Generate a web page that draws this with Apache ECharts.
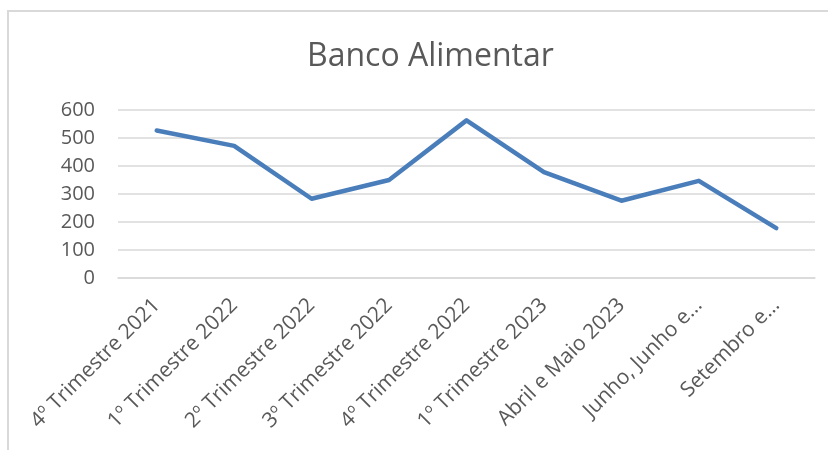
<!DOCTYPE html>
<html>
<head>
<meta charset="utf-8">
<script src="https://cdn.jsdelivr.net/npm/echarts@6/dist/echarts.min.js"></script>
<style>
  html, body { margin: 0; padding: 0; background: #fff; }
  #main { width: 828px; height: 450px; }
</style>
</head>
<body>
<div id="main"></div>
<script>
var categories = [
    '4º Trimestre 2021',
    '1º Trimestre 2022',
    '2º Trimestre 2022',
    '3º Trimestre 2022',
    '4º Trimestre 2022',
    '1º Trimestre 2023',
    'Abril e Maio 2023',
    'Junho, Junho e…',
    'Setembro e…'
];
var values = [527, 472, 283, 350, 563, 378, 276, 347, 178];
var yTicks = { min: 0, max: 600, interval: 100 };

var myChart = echarts.init(document.getElementById('main'));
var option = {
    animation: false,
    backgroundColor: '#ffffff',
    textStyle: {
        fontFamily: 'Open Sans'
    },
    graphic: [{
        type: 'rect',
        shape: { x: 8, y: 11, width: 830, height: 450 },
        style: { fill: 'none', stroke: '#d9d9d9', lineWidth: 2 }
    }],
    title: {
        text: 'Banco Alimentar',
        left: 302,
        top: 36,
        textStyle: {
            color: '#595959',
            fontSize: 32,
            fontWeight: 'normal',
            fontFamily: 'Open Sans'
        }
    },
    grid: {
        left: 118,
        right: 13,
        top: 110,
        bottom: 172,
        containLabel: false
    },
    xAxis: {
        type: 'category',
        data: categories,
        boundaryGap: true,
        axisLine: { show: true, lineStyle: { color: '#d9d9d9', width: 1.5 } },
        axisTick: { show: false },
        axisLabel: {
            rotate: 45,
            interval: 0,
            margin: 24,
            color: '#595959',
            fontSize: 21,
            fontFamily: 'Open Sans'
        }
    },
    yAxis: {
        type: 'value',
        min: yTicks.min,
        max: yTicks.max,
        interval: yTicks.interval,
        axisLine: { show: false },
        axisTick: { show: false },
        splitLine: { lineStyle: { color: '#d9d9d9', width: 1.5 } },
        axisLabel: {
            margin: 23,
            color: '#595959',
            fontSize: 20,
            fontFamily: 'Open Sans'
        }
    },
    series: [{
        type: 'line',
        data: values,
        symbol: 'none',
        lineStyle: {
            color: '#4a7ebb',
            width: 4.5,
            cap: 'round',
            join: 'round'
        }
    }]
};
myChart.setOption(option);
</script>
</body>
</html>
